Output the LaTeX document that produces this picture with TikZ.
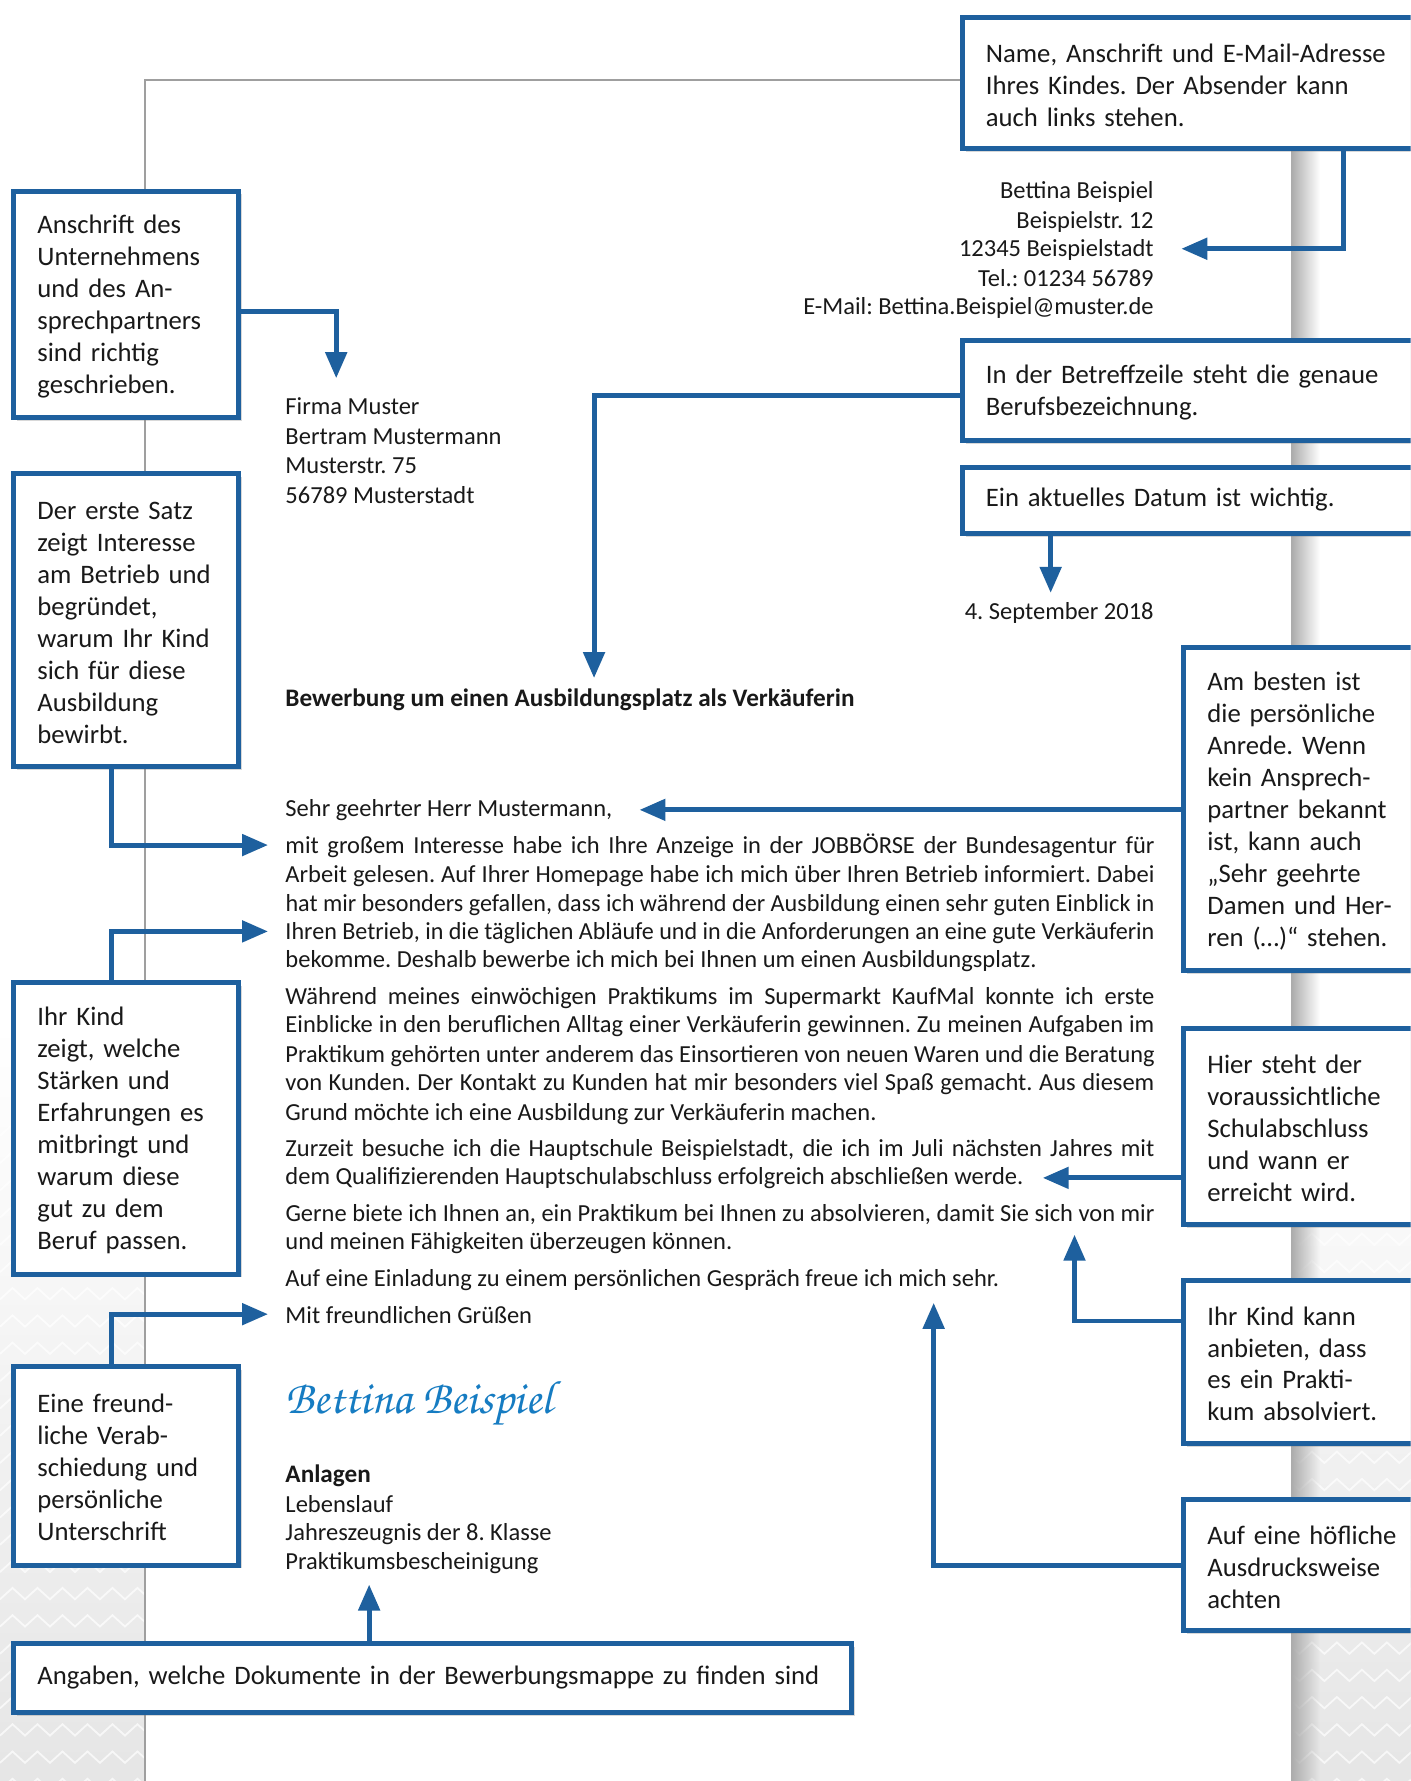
\documentclass[tikz,border=0pt]{standalone}
\usepackage{fontspec}
\setmainfont{Carlito}
\newfontfamily\sigfont{texgyrechorus-mediumitalic.otf}
\usepackage{graphicx}
\usepackage{tikz}
\usetikzlibrary{arrows.meta,shadows,fadings}

\definecolor{hintblue}{RGB}{30,96,158}
\definecolor{signblue}{RGB}{22,124,194}
\definecolor{ink}{RGB}{25,25,25}

\tikzfading[name=edgefade, left color=transparent!0, right color=transparent!100]

\frenchspacing
\newcommand\jline[1]{\setbox0\hbox{#1}%
	\ifdim\wd0>434.6pt\resizebox{434.6pt}{\height}{\box0}%
	\else{\spaceskip=.226em plus .6em\hbox to 434.6pt{#1}}\fi}

\tikzset{
	hintbox/.style={draw=hintblue, line width=2.5pt, fill=white, text=ink,
		anchor=north west, align=left, inner xsep=11.8pt, inner ysep=0pt,
		font=\fontsize{13.35}{16}\selectfont, execute at begin node=\strut,
		drop shadow={opacity=.3, shadow xshift=1.6pt, shadow yshift=-1.6pt}},
	conn/.style={draw=hintblue, line width=2.5pt,
		-{Triangle[length=13pt,width=10.5pt]}},
	letter/.style={anchor=mid west, inner sep=0pt, text=ink, yshift=-1.7pt,
		font=\fontsize{12.25}{14.5}\selectfont},
	rletter/.style={letter, anchor=mid east},
	bletter/.style={letter, font=\fontsize{12.6}{14.5}\selectfont\bfseries},
}

\begin{document}
\begin{tikzpicture}[x=0.5681pt, y=-0.5681pt]
	\clip (0,0) rectangle (1242,1568);
	\fill[white] (0,0) rectangle (1242,1568);
	\shade[top color=white, bottom color=gray!20] (0,900) rectangle (1242,1568);
	\foreach \r in {0,...,24}
		\draw[white, line width=.9pt, opacity=.7]
			(0,{1000+24*\r}) \foreach \k in {0,...,56} { -- ({22*\k+11},{990+24*\r}) -- ({22*\k+22},{1000+24*\r}) };
	\fill[white] (128,70) rectangle (1138,1568);
	\fill[gray!65, path fading=edgefade] (1137,70) rectangle (1162,1568);
	\draw[gray!75, line width=1pt] (128,1568) -- (128,70) -- (900,70);

	% letter
	\foreach \y/\t [count=\i] in {168/Bettina Beispiel, 194/Beispielstr. 12,
		219/12345 Beispielstadt, 245/{Tel.: 01234 56789},
		270/{E-Mail: Bettina.Beispiel@muster.de}}
		\node[rletter] (s\i) at (1016,\y) {\t};
	\foreach \y/\t [count=\i] in {358/Firma Muster, 384/Bertram Mustermann,
		410/Musterstr. 75, 436/56789 Musterstadt}
		\node[letter] (r\i) at (251,\y) {\t};
	\node[rletter] (datum) at (1016,538) {4. September 2018};
	\node[bletter] (betreff) at (251,615)
		{Bewerbung um einen Ausbildungsplatz als Verkäuferin};
	\foreach \y/\t [count=\i] in {
		744/{mit großem Interesse habe ich Ihre Anzeige in der JOBBÖRSE der Bundesagentur für},
		770/{Arbeit gelesen. Auf Ihrer Homepage habe ich mich über Ihren Betrieb informiert. Dabei},
		795/{hat mir besonders gefallen, dass ich während der Ausbildung einen sehr guten Einblick in},
		820/{Ihren Betrieb, in die täglichen Abläufe und in die Anforderungen an eine gute Verkäuferin},
		877/{Während meines einwöchigen Praktikums im Supermarkt KaufMal konnte ich erste},
		902/{Einblicke in den beruflichen Alltag einer Verkäuferin gewinnen. Zu meinen Aufgaben im},
		928/{Praktikum gehörten unter anderem das Einsortieren von neuen Waren und die Beratung},
		953/{von Kunden. Der Kontakt zu Kunden hat mir besonders viel Spaß gemacht. Aus diesem},
		1011/{Zurzeit besuche ich die Hauptschule Beispielstadt, die ich im Juli nächsten Jahres mit},
		1068/{Gerne biete ich Ihnen an, ein Praktikum bei Ihnen zu absolvieren, damit Sie sich von mir}}
		\node[letter] (j\i) at (251,\y) {\jline{\t}};
	\foreach \y/\t [count=\i] in {
		712/{Sehr geehrter Herr Mustermann,},
		845/{bekomme. Deshalb bewerbe ich mich bei Ihnen um einen Ausbildungsplatz.},
		979/{Grund möchte ich eine Ausbildung zur Verkäuferin machen.},
		1036/{dem Qualifizierenden Hauptschulabschluss erfolgreich abschließen werde.},
		1093/{und meinen Fähigkeiten überzeugen können.},
		1125/{Auf eine Einladung zu einem persönlichen Gespräch freue ich mich sehr.},
		1158/{Mit freundlichen Grüßen}}
		\node[letter] (p\i) at (251,\y) {\t};
	\node[letter, text=signblue, font=\sigfont\fontsize{23.5}{23.5}\selectfont] (sig)
		at (251,1237) {Bettina Beispiel};
	\node[bletter] (anl) at (251,1298) {Anlagen};
	\foreach \y/\t [count=\i] in {1324/Lebenslauf, 1349/Jahreszeugnis der 8. Klasse,
		1375/Praktikumsbescheinigung}
		\node[letter] (a\i) at (251,\y) {\t};

	% hints
	\node[hintbox, minimum width=236.1pt, minimum height=65.7pt, text width=212.5pt]
		(sender) at (845,13)
		{Name, Anschrift und E-Mail-Adresse\\Ihres Kindes. Der Absender kann\\auch links stehen.};
	\node[hintbox, minimum width=112.3pt, minimum height=113.4pt, text width=88.7pt]
		(company) at (10,166)
		{Anschrift des\\Unternehmens\\und des An-\\sprechpartners\\sind richtig\\geschrieben.};
	\node[hintbox, minimum width=236.1pt, minimum height=49.8pt, text width=212.5pt]
		(subject) at (845,298)
		{In der Betreffzeile steht die genaue\\Berufsbezeichnung.};
	\node[hintbox, minimum width=236.1pt, minimum height=33.3pt, text width=212.5pt]
		(date) at (845,409)
		{Ein aktuelles Datum ist wichtig.};
	\node[hintbox, minimum width=112.3pt, minimum height=146.3pt, text width=88.7pt]
		(opening) at (10,415)
		{Der erste Satz\\zeigt Interesse\\am Betrieb und\\begründet,\\warum Ihr Kind\\sich für diese\\Ausbildung\\bewirbt.};
	\node[hintbox, minimum width=123.6pt, minimum height=161.7pt, text width=100pt]
		(salut) at (1040,568)
		{Am besten ist\\die persönliche\\Anrede. Wenn\\kein Ansprech-\\partner bekannt\\ist, kann auch\\„Sehr geehrte\\Damen und Her-\\ren (\dots)“ stehen.};
	\node[hintbox, minimum width=112.3pt, minimum height=145.8pt, text width=88.7pt]
		(skills) at (10,863)
		{Ihr Kind\\zeigt, welche\\Stärken und\\Erfahrungen es\\mitbringt und\\warum diese\\gut zu dem\\Beruf passen.};
	\node[hintbox, minimum width=123.6pt, minimum height=98.1pt, text width=100pt]
		(school) at (1040,903)
		{Hier steht der\\voraussichtliche\\Schulabschluss\\und wann er\\erreicht wird.};
	\node[hintbox, minimum width=123.6pt, minimum height=81.6pt, text width=100pt]
		(intern) at (1040,1125)
		{Ihr Kind kann\\anbieten, dass\\es ein Prakti-\\kum absolviert.};
	\node[hintbox, minimum width=112.3pt, minimum height=99.2pt, text width=88.7pt]
		(closing) at (10,1201)
		{Eine freund-\\liche Verab-\\schiedung und\\persönliche\\Unterschrift};
	\node[hintbox, minimum width=123.6pt, minimum height=65.7pt, text width=100pt]
		(polite) at (1040,1318)
		{Auf eine höfliche\\Ausdrucksweise\\achten};
	\node[hintbox, minimum width=419pt, minimum height=34.4pt, text width=395.4pt]
		(attach) at (10,1445)
		{Angaben, welche Dokumente in der Bewerbungsmappe zu finden sind};

	% arrows
	\coordinate (tipA) at (1040,219);
	\coordinate (tipB) at (296,333);
	\coordinate (tipC) at (236,744);
	\coordinate (tipD) at (523,597);
	\coordinate (tipE) at (925,522);
	\coordinate (tipF) at (563,713);
	\coordinate (tipG) at (236,820);
	\coordinate (tipH) at (918,1037);
	\coordinate (tipI) at (946,1087);
	\coordinate (tipJ) at (236,1157);
	\coordinate (tipK) at (822,1147);
	\coordinate (tipL) at (325,1395);
	\draw[conn] (sender.south -| 1183,0) |- (tipA);
	\draw[conn] (company.east |- 0,274) -| (tipB);
	\draw[conn] (opening.south -| 98,0) |- (tipC);
	\draw[conn] (subject.west |- 0,348) -| (tipD);
	\draw[conn] (date.south -| 925,0) -- (tipE);
	\draw[conn] (salut.west |- 0,713) -- (tipF);
	\draw[conn] (skills.north -| 98,0) |- (tipG);
	\draw[conn] (school.west |- 0,1037) -- (tipH);
	\draw[conn] (intern.west |- 0,1163) -| (tipI);
	\draw[conn] (closing.north -| 98,0) |- (tipJ);
	\draw[conn] (polite.west |- 0,1378) -| (tipK);
	\draw[conn] (attach.north -| 325,0) -- (tipL);
\end{tikzpicture}
\end{document}
